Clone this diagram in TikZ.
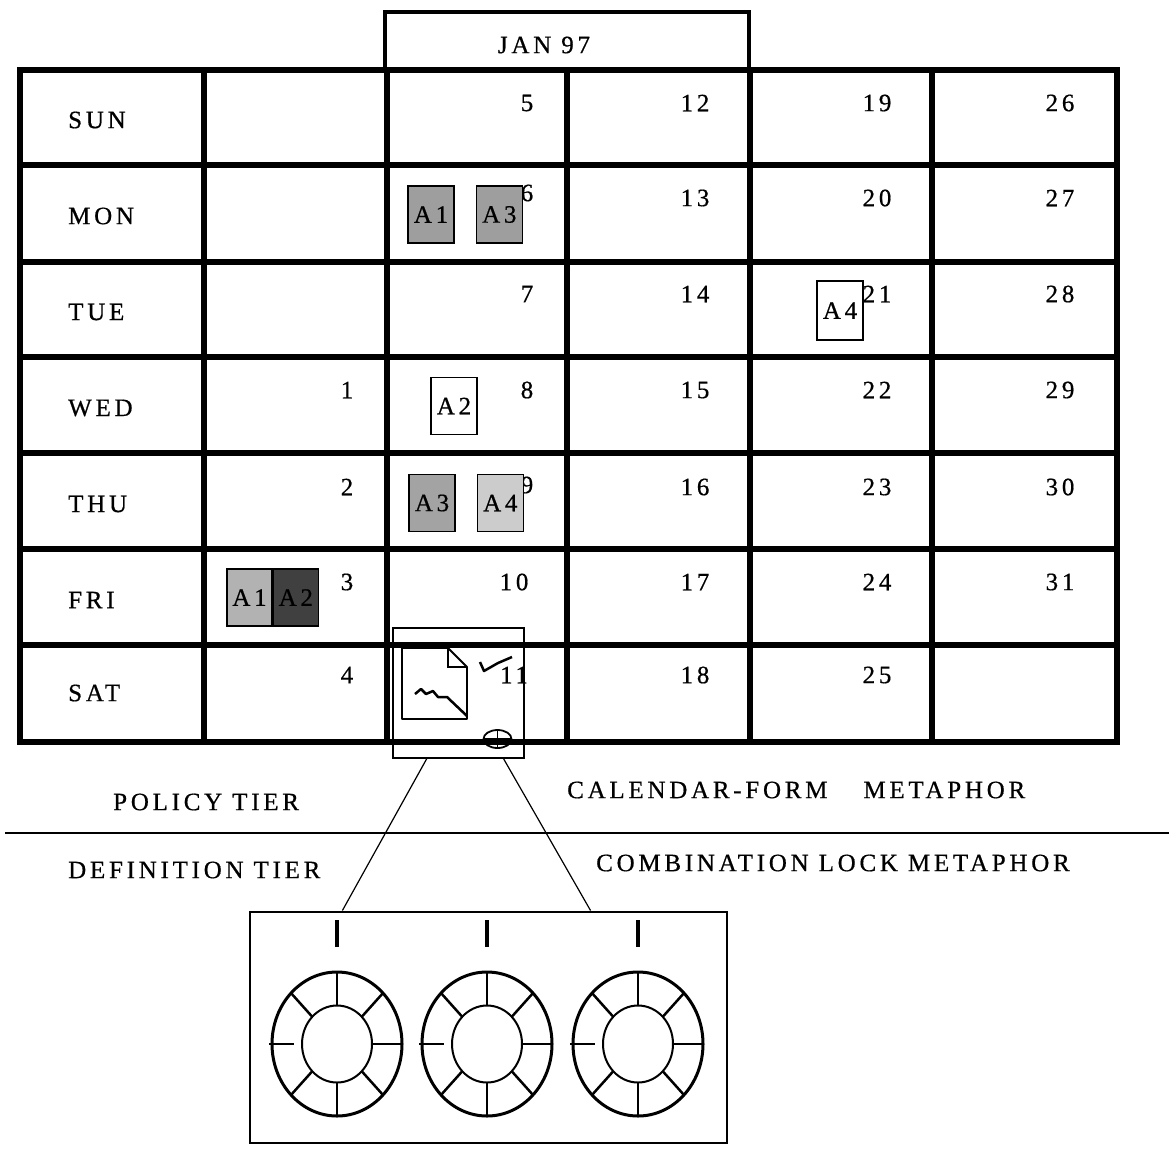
\documentclass[tikz,border=0pt]{standalone}
\usepackage{fontspec}
\setmainfont[LetterSpace=15, FakeBold=0.6]{Liberation Serif}
\usepackage{tikz}
\usetikzlibrary{positioning}
\usetikzlibrary{calc}

\begin{document}
\begin{tikzpicture}[
    x=1pt, y=-1pt,
    font=\fontsize{25}{29}\selectfont,
    gridline/.style={line width=6.5pt},
    dayname/.style={anchor=west, inner sep=0pt},
    daynum/.style={inner sep=0pt},
    task/.style={draw, line width=1.3pt, minimum width=46pt, minimum height=57pt, inner sep=0pt},
    thinbox/.style={draw, line width=2pt, inner sep=0pt},
    caption/.style={anchor=west, inner sep=0pt},
    spoke/.style={line width=2.5pt},
    node distance=21pt
    ]
    \useasboundingbox (0,0) rectangle (1169,1157);

    %Calendar grid
    \draw[gridline] (20,70) rectangle (1117,742);
    \foreach \gx in {204,387,567,750,932} \draw[gridline] (\gx,70) -- (\gx,742);
    \foreach \gy in {165,262,357,453,549,645} \draw[gridline] (20,\gy) -- (1117,\gy);

    \node[draw, line width=4pt, minimum width=364pt, minimum height=58pt] (month) at (567,41) {};
    \node[inner sep=0pt] (jan) at (544,45) {JAN 97};

    %Day names
    \node[dayname] (sun) at (68,120) {SUN};
    \node[dayname] (mon) at (68,216) {MON};
    \node[dayname] (tue) at (68,312) {TUE};
    \node[dayname] (wed) at (68,408) {WED};
    \node[dayname] (thu) at (68,504) {THU};
    \node[dayname] (fri) at (68,600) {FRI};
    \node[dayname] (sat) at (68,693) {SAT};

    %Dates
    \node[daynum] (n1) at (347,390) {1};
    \node[daynum] (n2) at (347,487) {2};
    \node[daynum] (n3) at (347,582) {3};
    \node[daynum] (n4) at (347,675) {4};
    \node[daynum] (n5) at (527,103) {5};
    \node[daynum] (n6) at (527,193) {6};
    \node[daynum] (n7) at (527,294) {7};
    \node[daynum] (n8) at (527,390) {8};
    \node[daynum] (n9) at (527,485) {9};
    \node[daynum] (n10) at (514,582) {10};
    \node[daynum] (n11) at (514,675) {11};
    \node[daynum] (n12) at (695,103) {12};
    \node[daynum] (n13) at (695,198) {13};
    \node[daynum] (n14) at (695,294) {14};
    \node[daynum] (n15) at (695,390) {15};
    \node[daynum] (n16) at (695,487) {16};
    \node[daynum] (n17) at (695,582) {17};
    \node[daynum] (n18) at (695,675) {18};
    \node[daynum] (n19) at (877,103) {19};
    \node[daynum] (n20) at (877,198) {20};
    \node[daynum] (n21) at (877,294) {21};
    \node[daynum] (n22) at (877,390) {22};
    \node[daynum] (n23) at (877,487) {23};
    \node[daynum] (n24) at (877,582) {24};
    \node[daynum] (n25) at (877,675) {25};
    \node[daynum] (n26) at (1060,103) {26};
    \node[daynum] (n27) at (1060,198) {27};
    \node[daynum] (n28) at (1060,294) {28};
    \node[daynum] (n29) at (1060,390) {29};
    \node[daynum] (n30) at (1060,487) {30};
    \node[daynum] (n31) at (1060,582) {31};

    %Activities
    \node[task, fill=black!38] (monA1) at (431,214.5) {A1};
    \node[task, fill=black!38] (monA3) [right=of monA1] {A3};
    \node[task, fill=white, minimum height=59pt] (tueA4) at (840,310.5) {A4};
    \node[task, fill=white] (wedA2) at (454,406) {A2};
    \node[task, fill=black!36] (thuA3) at (432,503) {A3};
    \node[task, fill=black!20] (thuA4) [right=of thuA3] {A4};
    \node[task, fill=black!30, minimum width=45pt] (friA1) at (249.5,597.5) {A1};
    \node[task, fill=black!75, minimum width=45pt] (friA2) [right=0pt of friA1] {A2};

    %Form on the 11th
    \node[thinbox, minimum width=131pt, minimum height=130pt] (form) at (458.5,693) {};
    \draw[line width=1.8pt, line join=round] (402,648) -- (448,648) -- (467,667) -- (467,719) -- (402,719) -- cycle;
    \draw[line width=1.6pt] (448,648) -- (448,667) -- (467,667);
    \draw[line width=2.5pt, line join=round] (415,694) -- (421,689) -- (426,694) -- (433,691) -- (438,697) -- (447,697) -- (467,716);
    \draw[line width=2.5pt, line join=round] (480,662) -- (484,671) -- (498,663) -- (512,657);
    \draw[line width=1.8pt] (497.5,739) ellipse [x radius=14, y radius=9];
    \draw[line width=1.5pt] (483.5,739) -- (511.5,739) (497.5,730) -- (497.5,748);

    %Tiers
    \node[caption] (policy) at (113,802) {POLICY TIER};
    \node[caption] (calform) at (567,790) {CALENDAR-FORM\hspace{36pt}METAPHOR};
    \draw[line width=1.2pt] (5,833) -- (1169,833);
    \node[caption] (definition) at (68,870) {DEFINITION TIER};
    \node[caption] (combo) at (596,863) {COMBINATION LOCK METAPHOR};

    %Combination lock
    \node[thinbox, minimum width=477pt, minimum height=231pt] (lock) at (488.5,1027) {};
    \draw[line width=1.2pt] ($(form.south west)!0.26!(form.south east)$) -- ($(lock.north west)!0.195!(lock.north east)$);
    \draw[line width=1.2pt] ($(form.south west)!0.84!(form.south east)$) -- ($(lock.north west)!0.713!(lock.north east)$);

    \foreach \cx in {337,487,638} {
        \draw[line width=3pt] (\cx,1044) ellipse [x radius=65, y radius=72];
        \draw[line width=2pt] (\cx,1044) ellipse [x radius=35, y radius=38.5];
        \foreach \a in {0,45,90,135,225,270,315}
            \draw[spoke] ($(\cx,1044)+(\a:35 and 38.5)$) -- ($(\cx,1044)+(\a:65 and 72)$);
        \draw[spoke] (\cx-68,1044) -- (\cx-43,1044);
        \draw[line width=4pt] (\cx,920) -- (\cx,947);
    }

\end{tikzpicture}
\end{document}
